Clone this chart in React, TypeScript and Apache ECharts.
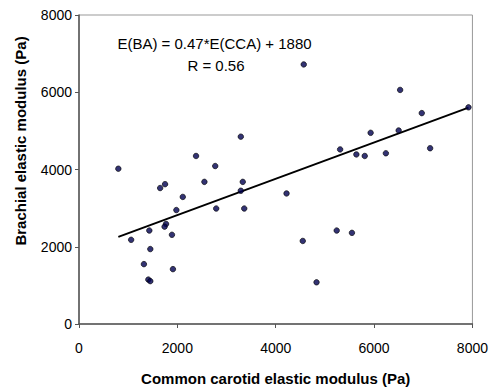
import React, { useEffect, useRef } from "react";
import * as echarts from "echarts";

const ccaValues = [800, 2380, 2770, 3290, 4570, 6530, 6970, 7920, 5930, 6500, 5310, 5640, 5810, 6240, 7140,
  1650, 1750, 2550, 3330, 2110, 3290, 1980, 2790, 3360, 1770, 1740, 1430, 1890, 1060, 1450, 1320, 1910, 1410, 1450,
  4220, 4550, 5240, 5550, 4830];
const baValues = [4020, 4350, 4090, 4850, 6720, 6060, 5460, 5610, 4950, 5010, 4520, 4390, 4350, 4420, 4550,
  3520, 3620, 3680, 3680, 3290, 3450, 2950, 2990, 2990, 2590, 2520, 2420, 2310, 2180, 1940, 1550, 1420, 1150, 1110,
  3380, 2150, 2420, 2360, 1080];
const slope = 0.47;
const intercept = 1880;
const fitRange = [800, 7920];
const tickLabels = ["0", "2000", "4000", "6000", "8000"];
const equationText = "E(BA) = 0.47*E(CCA) + 1880";
const rText = "R = 0.56";
const xName = "Common carotid elastic modulus (Pa)";
const yName = "Brachial elastic modulus (Pa)";

export default function App() {
  const ref = useRef<HTMLDivElement>(null);
  useEffect(() => {
    const chart = echarts.init(ref.current!, null, { renderer: "svg" });
    const points = ccaValues.map((x, i) => [x, baValues[i]]);
    const fit = fitRange.map((x) => [x, slope * x + intercept]);
    const font = "Liberation Sans, Arial, sans-serif";
    const fmt = (v: number) => tickLabels[Math.round(v / 2000)] ?? String(v);
    chart.setOption({
      animation: false,
      backgroundColor: "#ffffff",
      grid: { left: 79, right: 17, top: 15, bottom: 66.5, show: true, borderColor: "#999999", borderWidth: 1 },
      xAxis: {
        type: "value",
        min: 0,
        max: 8000,
        interval: 2000,
        name: xName,
        nameLocation: "middle",
        nameGap: 47,
        nameTextStyle: { fontFamily: font, fontWeight: "bold", fontSize: 15, color: "#000" },
        axisLine: { show: true, lineStyle: { color: "#555", width: 1.5 } },
        axisTick: { show: true, length: 4, lineStyle: { color: "#555" } },
        axisLabel: { fontFamily: font, fontSize: 14, color: "#000", margin: 17, formatter: fmt },
        splitLine: { show: false },
      },
      yAxis: {
        type: "value",
        min: 0,
        max: 8000,
        interval: 2000,
        axisLine: { show: true, lineStyle: { color: "#555", width: 1.5 } },
        axisTick: { show: true, length: 4, lineStyle: { color: "#555" } },
        axisLabel: { fontFamily: font, fontSize: 14, color: "#000", margin: 7, formatter: fmt },
        splitLine: { show: false },
      },
      graphic: [
        {
          type: "text",
          x: 20,
          y: 141,
          rotation: Math.PI / 2,
          style: { text: yName, font: `bold 15px ${font}`, fill: "#000", align: "center", verticalAlign: "middle" },
        },
        {
          type: "text",
          x: 214.5,
          y: 43,
          style: { text: equationText, font: `15px ${font}`, fill: "#000", align: "center", verticalAlign: "middle" },
        },
        {
          type: "text",
          x: 216,
          y: 65,
          style: { text: rText, font: `15px ${font}`, fill: "#000", align: "center", verticalAlign: "middle" },
        },
      ],
      series: [
        {
          type: "line",
          data: fit,
          symbol: "none",
          lineStyle: { color: "#000", width: 2 },
          silent: true,
          z: 1,
        },
        {
          type: "scatter",
          data: points,
          symbol: "circle",
          symbolSize: 5.5,
          itemStyle: { color: "#000050", borderColor: "#000", borderWidth: 0.8 },
          z: 2,
        },
      ],
    });
    return () => chart.dispose();
  }, []);
  return <div ref={ref} style={{ width: 491, height: 391, position: "absolute", left: 0, top: 0 }} />;
}
